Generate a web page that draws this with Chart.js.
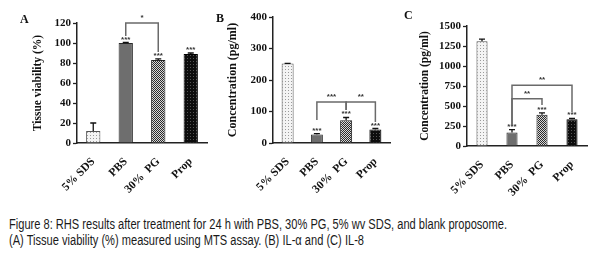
<!DOCTYPE html>
<html>
<head>
<meta charset="utf-8">
<script src="https://cdn.jsdelivr.net/npm/chart.js@4.4.1/dist/chart.umd.min.js"></script>
<style>
    body { margin: 0; background: #fff; width: 600px; height: 264px; overflow: hidden; position: relative; }
    canvas { position: absolute; top: 0; }
    .tag { position: absolute; font: bold 12px 'Liberation Serif', serif; color: #111; }
    #caption { position: absolute; left: 9px; top: 216px; font: 14px 'Liberation Sans Narrow', 'Liberation Sans', sans-serif;
               line-height: 16px; white-space: nowrap; transform-origin: 0 0; color: #1a1a1a; }
</style>
</head>
<body>
<canvas id="chartA" width="210" height="200" style="left:0"></canvas>
<canvas id="chartB" width="205" height="200" style="left:195px"></canvas>
<canvas id="chartC" width="210" height="200" style="left:390px"></canvas>
<div class="tag" style="left:20px;top:12px">A</div>
<div class="tag" style="left:216px;top:11px">B</div>
<div class="tag" style="left:404px;top:8px">C</div>
<div id="caption"><span>Figure 8: RHS results after treatment for 24 h with PBS, 30% PG, 5% wv SDS, and blank proposome.</span><br>(A) Tissue viability (%) measured using MTS assay. (B) IL-α and (C) IL-8</div>

<script>
// groups on the x axis
const categories = ['5% SDS', 'PBS', '30%  PG', 'Prop'];

// panel A - tissue viability (%)
const viability = [12, 100, 83, 89];
const viabilityErr = [8, 0.5, 1.2, 1];
const viabilityStars = ['', '***', '***', '***'];
const viabilityTicks = [0, 20, 40, 60, 80, 100, 120];
// [from, to, bracket top, left leg end, right leg end, label]
const viabilityBrackets = [[1, 2, 120, 107, 91, '*']];

// panel B - IL-alpha (pg/ml)
const ilAlpha = [252, 27, 72, 43];
const ilAlphaErr = [1, 3, 9, 3];
const ilAlphaStars = ['', '***', '***', '***'];
const ilAlphaTicks = [0, 50, 100, 150, 200, 250, 300, 350, 400];
const ilAlphaBrackets = [[1, 2, 130, 73, 105, '***'], [2, 3, 130, 105, 67, '**']];

// panel C - IL-8 (pg/ml)
const il8 = [1310, 170, 390, 335];
const il8Err = [25, 35, 25, 10];
const il8Stars = ['', '***', '***', '***'];
const il8Ticks = [0, 250, 500, 750, 1000, 1250, 1500];
const il8Brackets = [[1, 2, 590, 262, 512, '**'], [1, 3, 760, 262, 425, '**']];

Chart.defaults.font.family = "'Liberation Serif', 'Times New Roman', serif";
Chart.defaults.font.weight = 'bold';
Chart.defaults.color = '#111';

function makePattern(kind) {
    const c = document.createElement('canvas');
    const x = c.getContext('2d');
    if (kind === 'dots') {
        c.width = 3; c.height = 3;
        x.fillStyle = '#f4f4f4'; x.fillRect(0, 0, 3, 3);
        x.fillStyle = '#9a9a9a'; x.fillRect(0, 0, 1, 1);
    } else if (kind === 'checker') {
        c.width = 2; c.height = 2;
        x.fillStyle = '#d8d8d8'; x.fillRect(0, 0, 2, 2);
        x.fillStyle = '#2a2a2a'; x.fillRect(0, 0, 1, 1); x.fillRect(1, 1, 1, 1);
    } else {
        c.width = 3; c.height = 3;
        x.fillStyle = '#0d0d0d'; x.fillRect(0, 0, 3, 3);
        x.fillStyle = '#555'; x.fillRect(1, 1, 1, 1);
    }
    return x.createPattern(c, 'repeat');
}

const barFills = [makePattern('dots'), '#6e6e6e', makePattern('checker'), makePattern('dark')];

// error bars, stars and brackets drawn on top of bars
const marksPlugin = {
    id: 'marks',
    afterDatasetsDraw(chart) {
        const ctx = chart.ctx;
        const y = chart.scales.y;
        const bars = chart.getDatasetMeta(0).data;
        const ds = chart.data.datasets[0];
        const errs = chart.options.plugins.marks.errors;
        const stars = chart.options.plugins.marks.stars;
        const brackets = chart.options.plugins.marks.brackets;
        ctx.save();
        bars.forEach((bar, i) => {
            const top = y.getPixelForValue(ds.data[i] + errs[i]);
            ctx.strokeStyle = '#111';
            ctx.lineWidth = 1.3;
            ctx.beginPath();
            ctx.moveTo(bar.x, bar.y);
            ctx.lineTo(bar.x, top);
            ctx.moveTo(bar.x - 3, top);
            ctx.lineTo(bar.x + 3, top);
            ctx.stroke();
            if (stars[i]) {
                ctx.fillStyle = '#333';
                ctx.font = 'bold 8px "Liberation Sans", sans-serif';
                ctx.textAlign = 'center';
                ctx.textBaseline = 'alphabetic';
                ctx.fillText(stars[i], bar.x, top - 1);
            }
        });
        brackets.forEach(b => {
            const x1 = bars[b[0]].x, x2 = bars[b[1]].x;
            const yt = y.getPixelForValue(b[2]);
            ctx.strokeStyle = '#6a6a6a';
            ctx.lineWidth = 1.5;
            ctx.beginPath();
            ctx.moveTo(x1, y.getPixelForValue(b[3]));
            ctx.lineTo(x1, yt);
            ctx.lineTo(x2, yt);
            ctx.lineTo(x2, y.getPixelForValue(b[4]));
            ctx.stroke();
            ctx.fillStyle = '#333';
            ctx.font = 'bold 8px "Liberation Sans", sans-serif';
            ctx.textAlign = 'center';
            ctx.fillText(b[5], (x1 + x2) / 2, yt - 3);
        });
        ctx.restore();
    }
};

function makeChart(id, values, errs, stars, brackets, ticks, yTitle, lay) {
    return new Chart(document.getElementById(id), {
        type: 'bar',
        data: {
            labels: categories,
            datasets: [{
                data: values,
                backgroundColor: barFills,
                borderColor: ['#555', '#2a2a2a', '#222', '#000'],
                borderWidth: 1,
                barPercentage: lay.barPct,
                categoryPercentage: 1
            }]
        },
        options: {
            responsive: false,
            animation: false,
            layout: { padding: { top: lay.top, right: lay.right, left: 0, bottom: 0 } },
            plugins: {
                legend: { display: false },
                tooltip: { enabled: false },
                marks: { errors: errs, stars: stars, brackets: brackets }
            },
            scales: {
                x: {
                    grid: { display: false },
                    border: { display: true, color: '#222', width: 1.5 },
                    ticks: {
                        color: '#111', minRotation: 45, maxRotation: 45, padding: 4,
                        font: { size: lay.catSize, weight: 'bold' }
                    },
                    afterFit: s => { s.height = lay.xHeight; }
                },
                y: {
                    min: 0,
                    max: ticks[ticks.length - 1],
                    afterBuildTicks: s => { s.ticks = ticks.map(v => ({ value: v })); },
                    grid: { drawOnChartArea: false, drawTicks: true, tickLength: 4, color: '#222', tickWidth: 1.3 },
                    border: { display: true, color: '#222', width: 1.5 },
                    ticks: {
                        color: '#111', padding: 2,
                        font: { size: 11, weight: 'bold' },
                        callback: v => String(v)
                    },
                    title: {
                        display: true, text: yTitle, color: '#111',
                        padding: { top: lay.titlePad, bottom: 0 },
                        font: { size: lay.titleSize, weight: 'bold' }
                    },
                    afterFit: s => { s.width = lay.axisLeft; }
                }
            }
        },
        plugins: [marksPlugin]
    });
}

makeChart('chartA', viability, viabilityErr, viabilityStars, viabilityBrackets, viabilityTicks,
    'Tissue viability (%)',
    { top: 23, right: 3, axisLeft: 77, xHeight: 57, barPct: 0.44, catSize: 11.5, titlePad: 31, titleSize: 11.5 });
makeChart('chartB', ilAlpha, ilAlphaErr, ilAlphaStars, ilAlphaBrackets, ilAlphaTicks,
    'Concentration (pg/ml)',
    { top: 17, right: 10, axisLeft: 78, xHeight: 57, barPct: 0.41, catSize: 11.5, titlePad: 31, titleSize: 12 });
makeChart('chartC', il8, il8Err, il8Stars, il8Brackets, il8Ticks,
    'Concentration (pg/ml)',
    { top: 26, right: 13, axisLeft: 77, xHeight: 54, barPct: 0.37, catSize: 11.5, titlePad: 28, titleSize: 11.5 });

// squeeze caption to the width it has in the figure
const cap = document.getElementById('caption');
const w = cap.querySelector('span').getBoundingClientRect().width;
cap.style.transform = 'scaleX(' + (498 / w) + ')';
</script>
</body>
</html>
